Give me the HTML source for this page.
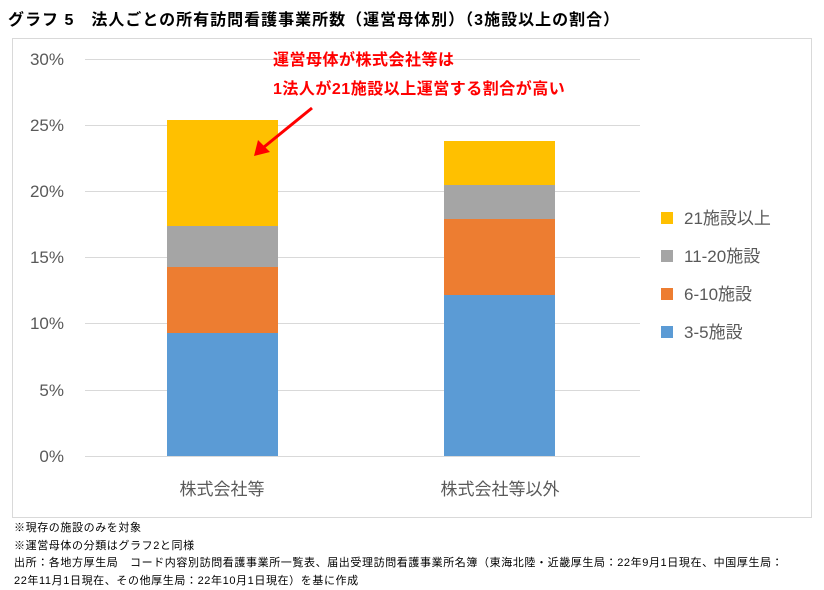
<!DOCTYPE html>
<html><head><meta charset="utf-8"><style>
body{margin:0;background:#fff;width:824px;height:584px;overflow:hidden;font-family:"Liberation Sans","Noto Sans CJK JP",sans-serif;}
.t{position:absolute;white-space:nowrap}
</style></head><body>
<div class="t" style="left:8px;top:6px;font-size:16px;letter-spacing:1px;font-weight:bold;color:#000">グラフ 5　法人ごとの所有訪問看護事業所数（運営母体別）（3施設以上の割合）</div>
<svg width="824" height="584" style="position:absolute;left:0;top:0">
<rect x="12.5" y="38.5" width="799" height="479" fill="#fff" stroke="#d9d9d9"/>
<g stroke="#d9d9d9" stroke-width="1">
<line x1="85" x2="640" y1="59.5" y2="59.5"/><line x1="85" x2="640" y1="125.5" y2="125.5"/>
<line x1="85" x2="640" y1="191.5" y2="191.5"/><line x1="85" x2="640" y1="257.5" y2="257.5"/>
<line x1="85" x2="640" y1="323.5" y2="323.5"/><line x1="85" x2="640" y1="390.5" y2="390.5"/>
<line x1="85" x2="640" y1="456.5" y2="456.5"/></g>
<g font-size="17" fill="#595959" text-anchor="end" font-family="Liberation Sans,sans-serif">
<text x="64" y="65">30%</text><text x="64" y="131">25%</text><text x="64" y="197">20%</text>
<text x="64" y="263">15%</text><text x="64" y="329">10%</text><text x="64" y="396">5%</text><text x="64" y="462">0%</text></g>
<rect x="167" y="333" width="111" height="123" fill="#5b9bd5"/>
<rect x="167" y="267" width="111" height="66" fill="#ed7d31"/>
<rect x="167" y="226" width="111" height="41" fill="#a5a5a5"/>
<rect x="167" y="120" width="111" height="106" fill="#ffc000"/>
<rect x="444" y="295" width="111" height="161" fill="#5b9bd5"/>
<rect x="444" y="219" width="111" height="76" fill="#ed7d31"/>
<rect x="444" y="185" width="111" height="34" fill="#a5a5a5"/>
<rect x="444" y="141" width="111" height="44" fill="#ffc000"/>
<g font-size="17" fill="#595959" text-anchor="middle">
<text x="222" y="495">株式会社等</text><text x="500" y="495">株式会社等以外</text></g>
<rect x="661" y="212" width="12" height="12" fill="#ffc000"/>
<rect x="661" y="250" width="12" height="12" fill="#a5a5a5"/>
<rect x="661" y="288" width="12" height="12" fill="#ed7d31"/>
<rect x="661" y="326" width="12" height="12" fill="#5b9bd5"/>
<g font-size="17" fill="#595959">
<text x="684" y="224">21施設以上</text><text x="684" y="262">11-20施設</text>
<text x="684" y="300">6-10施設</text><text x="684" y="338">3-5施設</text></g>
<g font-size="16" font-weight="bold" fill="#ff0000" letter-spacing="0.5">
<text x="273" y="65">運営母体が株式会社等は</text><text x="273" y="94">1法人が21施設以上運営する割合が高い</text></g>
<line x1="312" y1="108" x2="264" y2="147" stroke="#ff0000" stroke-width="3"/>
<polygon points="254,156 258,140 270,152" fill="#ff0000"/>
</svg>
<div class="t" style="left:14px;top:520px;font-size:11px;letter-spacing:0.6px;line-height:17.5px;color:#000">※現存の施設のみを対象<br>※運営母体の分類はグラフ2と同様<br>出所：各地方厚生局　コード内容別訪問看護事業所一覧表、届出受理訪問看護事業所名簿（東海北陸・近畿厚生局：22年9月1日現在、中国厚生局：<br>22年11月1日現在、その他厚生局：22年10月1日現在）を基に作成</div>
</body></html>
